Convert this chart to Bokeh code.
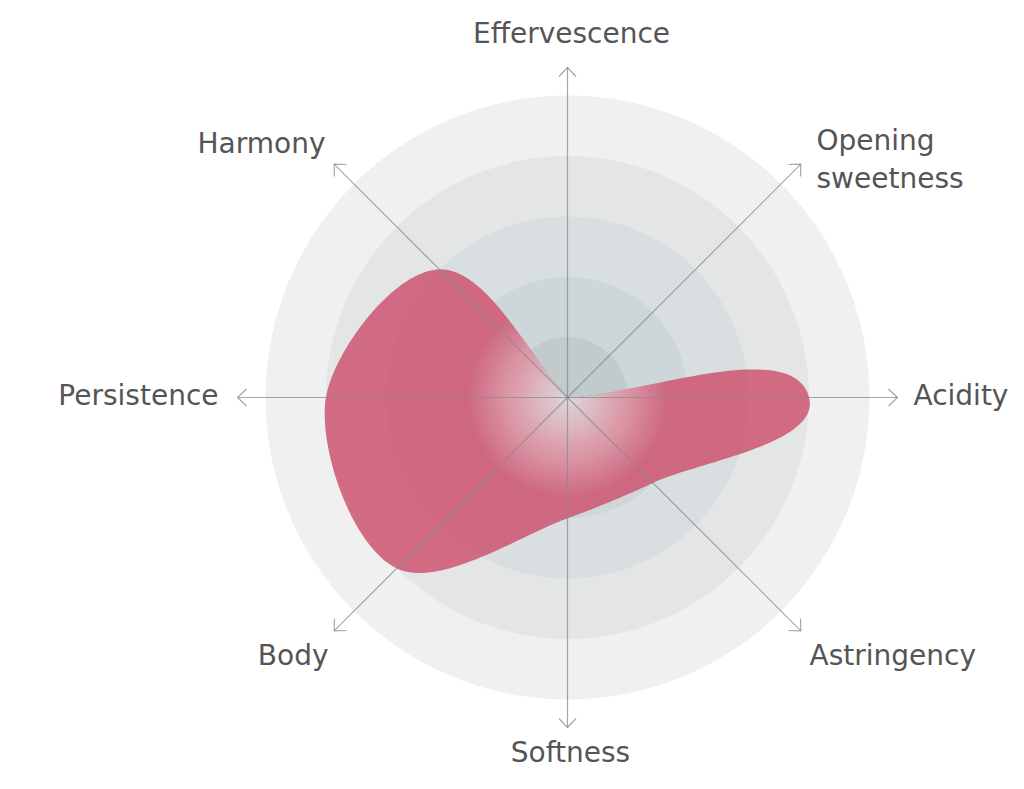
import numpy as np
from bokeh.plotting import figure
from bokeh.models import ColumnDataSource
from bokeh.core.properties import value
from bokeh.embed import file_html
from bokeh.resources import INLINE

# ---------------- data ----------------
categories = ["Effervescence", "Opening\nsweetness", "Acidity", "Astringency",
              "Softness", "Body", "Persistence", "Harmony"]
values = [0, 0, 4, 2, 2, 4, 4, 3]
levels = [1, 2, 3, 4, 5]
max_value = 5

# ---------------- layout / style ----------------
W, H = 1024, 789
CX, CY = 567, 397          # centre of the radar inside the figure, px from left / top
R_OUT = 302                # radius of the outer ring, px
AXIS_LEN = 330
ring_colors = ["#f0f0f0", "#e4e6e6", "#d9dfe1", "#cdd6d8", "#c2cbcb"]   # outer -> inner
fill_color = "#cc5571"
text_color = "#555555"
font = "DejaVu Sans"
# label anchor offsets (px from centre, y up) and alignment, in category order
label_pos = [(4, 364, "center"), (249, 238, "left"), (346, 2, "left"), (242, -258, "left"),
             (3, -355, "center"), (-239, -258, "right"), (-349, 2, "right"), (-242, 254, "right")]

unit = R_OUT / max_value
n = len(categories)
angles = np.deg2rad(90 - 45 * np.arange(n))

p = figure(width=W, height=H, x_range=(-CX, W - CX), y_range=(-(H - CY), CY),
           output_backend="svg", toolbar_location=None, min_border=0,
           x_axis_location=None, y_axis_location=None, outline_line_color=None)
p.grid.visible = False
p.background_fill_color = "white"
p.border_fill_color = "white"

# rings
radii = [l * unit for l in levels][::-1]
p.circle(x=[0] * len(radii), y=[0] * len(radii), radius=radii,
         fill_color=ring_colors, line_color=None)

# data points
r = np.array(values, dtype=float) * unit
px = r * np.cos(angles)
py = r * np.sin(angles)


def smooth_closed(xs, ys, f=0.27, steps=60):
    P = np.column_stack([xs, ys]).astype(float)
    N = len(P)
    T = np.zeros_like(P)
    dprev = np.zeros(N)
    dnext = np.zeros(N)
    for i in range(N):
        a = P[i - 1] - P[i]
        b = P[(i + 1) % N] - P[i]
        da, db = np.hypot(*a), np.hypot(*b)
        ua = a / da if da > 1e-9 else np.zeros(2)
        ub = b / db if db > 1e-9 else np.zeros(2)
        t = ub - ua
        nt = np.hypot(*t)
        T[i] = t / nt if nt > 1e-9 else 0.0
        dprev[i], dnext[i] = da, db
    s = np.linspace(0, 1, steps, endpoint=False)[:, None]
    out = []
    for i in range(N):
        j = (i + 1) % N
        p0, p3 = P[i], P[j]
        c1 = p0 + f * dnext[i] * T[i]
        c2 = p3 - f * dprev[j] * T[j]
        seg = ((1 - s) ** 3) * p0 + 3 * ((1 - s) ** 2) * s * c1 + 3 * (1 - s) * s ** 2 * c2 + s ** 3 * p3
        out.append(seg)
    out = np.vstack(out)
    return out[:, 0], out[:, 1]


sx, sy = smooth_closed(px, py)
p.patch(sx, sy, fill_color=fill_color, fill_alpha=0.85, line_color=None)

# white radial glow inside the shape (stacked clipped layers)
rad = np.hypot(sx, sy)
NL = 70
GR = 100.0
WMAX = 0.85
a = 1 - (1 - WMAX) ** (1.0 / NL)
for k in range(1, NL + 1):
    Rk = GR * (1 - (1 - (1 - a) ** (k - 0.5)) / WMAX)
    if Rk <= 0:
        continue
    sc = np.where(rad > Rk, Rk / np.maximum(rad, 1e-9), 1.0)
    p.patch(sx * sc, sy * sc, fill_color="white", fill_alpha=a, line_color=None)

# axes with open arrow heads
ux, uy = np.cos(angles), np.sin(angles)
tipx, tipy = AXIS_LEN * ux, AXIS_LEN * uy
HL, HW = 9.0, 8.5
lines_x, lines_y = [], []
for i in range(n):
    lines_x.append([0, tipx[i]])
    lines_y.append([0, tipy[i]])
    bx, by = tipx[i] - HL * ux[i], tipy[i] - HL * uy[i]
    nx, ny = -uy[i], ux[i]
    lines_x.append([bx + HW * nx, tipx[i], bx - HW * nx])
    lines_y.append([by + HW * ny, tipy[i], by - HW * ny])
p.multi_line(lines_x, lines_y, line_color="#8a8a8a", line_alpha=0.75, line_width=1.2)

# labels
lsrc = ColumnDataSource(dict(
    x=[lp[0] for lp in label_pos], y=[lp[1] for lp in label_pos],
    text=categories, align=[lp[2] for lp in label_pos]))
p.text(x="x", y="y", text="text", source=lsrc, text_align="align", text_baseline="middle",
       text_font=value(font), text_font_size="28px", text_color=text_color,
       text_line_height=1.18)

open("out.html", "w").write(file_html(p, INLINE))
